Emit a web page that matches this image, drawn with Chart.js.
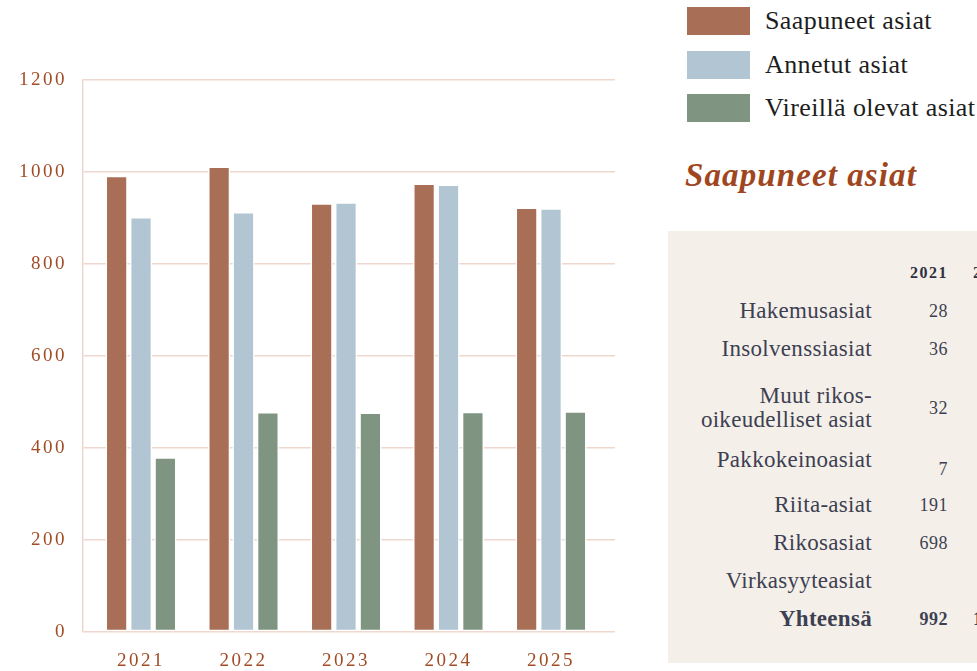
<!DOCTYPE html>
<html lang="fi">
<head>
<meta charset="utf-8">
<title>Saapuneet asiat</title>
<script src="https://cdn.jsdelivr.net/npm/chart.js@4/dist/chart.umd.min.js"></script>
<style>
  html, body {
    margin: 0;
    width: 977px;
    height: 671px;
    overflow: hidden;
    background: #fff;
    font-family: "Liberation Serif", serif;
  }
  #chartBox {
    position: absolute;
    left: 0;
    top: 0;
    width: 640px;
    height: 671px;
  }
  #legend {
    position: absolute;
    left: 687px;
    top: 7px;
  }
  .legend-row {
    display: flex;
    align-items: center;
    height: 28px;
    margin-bottom: 15.5px;
    white-space: nowrap;
  }
  .legend-box {
    width: 63px;
    height: 28px;
    margin-right: 15px;
  }
  .legend-text {
    font-size: 26px;
    letter-spacing: 0.4px;
    color: #1d1d1d;
  }
  #title {
    position: absolute;
    left: 685px;
    top: 157px;
    font-size: 33px;
    line-height: 36px;
    font-style: italic;
    font-weight: bold;
    letter-spacing: 1.1px;
    color: #a0461e;
    white-space: nowrap;
  }
  #panel {
    position: absolute;
    left: 668px;
    top: 231px;
    width: 400px;
    height: 432px;
    background: #f4f0e9;
  }
  #table {
    position: absolute;
    left: 0;
    top: 23px;
    display: grid;
    grid-template-columns: 204px 76px 63px;
    color: #3d3f52;
  }
  #table div {
    box-sizing: border-box;
    height: 38px;
    display: flex;
    align-items: center;
    justify-content: flex-end;
    white-space: pre-line;
    text-align: right;
  }
  #table .lbl { font-size: 23px; letter-spacing: 0.3px; line-height: 24px; }
  #table .num { font-size: 18px; letter-spacing: 0.5px; }
  #table .head { font-size: 16px; font-weight: bold; letter-spacing: 1.5px; color: #2f3142; }
  #table .tall { height: 80px; }
  #table .bold { font-weight: bold; }
</style>
</head>
<body>
<div id="chartBox"><canvas id="chart"></canvas></div>
<div id="legend"></div>
<div id="title">Saapuneet asiat</div>
<div id="panel"><div id="table"></div></div>

<script>
// Chart data
const years = [2021, 2022, 2023, 2024, 2025];
const saapuneet = [992, 1012, 932, 975, 923];
const annetut = [902, 913, 934, 973, 921];
const vireilla = [380, 478, 477, 479, 480];

const seriesNames = ['Saapuneet asiat', 'Annetut asiat', 'Vireillä olevat asiat'];
const seriesColors = ['#a96f56', '#b2c5d3', '#7f9581'];

// Side table (Saapuneet asiat per case type)
const tableYears = ['2021', '2022'];
const caseTypes = ['Hakemusasiat', 'Insolvenssiasiat', 'Muut rikos-\noikeudelliset asiat',
  'Pakkokeinoasiat', 'Riita-asiat', 'Rikosasiat', 'Virkasyyteasiat'];
const cases2021 = [28, 36, 32, 7, 191, 698, null];
const totalLabel = 'Yhteensä';

const gridColor = '#eed8ce';
const tickColor = '#a24c25';

// Legend
const legend = document.getElementById('legend');
seriesNames.forEach((name, i) => {
  const row = document.createElement('div');
  row.className = 'legend-row';
  row.innerHTML = '<div class="legend-box" style="background:' + seriesColors[i] + '"></div>' +
    '<span class="legend-text">' + name + '</span>';
  legend.appendChild(row);
});

// Table
const table = document.getElementById('table');
function addCell(text, cls) {
  const cell = document.createElement('div');
  cell.className = cls;
  cell.textContent = text;
  table.appendChild(cell);
  return cell;
}
addCell('', 'lbl');
tableYears.forEach(y => addCell(y, 'head'));
caseTypes.forEach((name, i) => {
  const tall = name.indexOf('\n') >= 0 ? ' tall' : '';
  const lbl = addCell(name, 'lbl' + tall);
  const num = addCell(cases2021[i] === null ? '' : cases2021[i], 'num' + tall);
  addCell('', 'num' + tall);
  // this row sits a bit off in the original
  if (name === 'Pakkokeinoasiat') {
    lbl.style.paddingBottom = '14px';
    num.style.paddingTop = '4px';
  }
});
const total = cases2021.reduce((a, b) => a + (b || 0), 0);
addCell(totalLabel, 'lbl bold');
addCell(total, 'num bold');
addCell(saapuneet[1], 'num bold');

// Wider letter spacing for the axis numbers
const spacing = {
  id: 'spacing',
  beforeLayout(chart) { chart.ctx.letterSpacing = '2.5px'; },
  beforeDraw(chart) { chart.ctx.letterSpacing = '2.5px'; }
};

const tickFont = { family: 'Liberation Serif', size: 19 };

const ctx = document.getElementById('chart').getContext('2d');
new Chart(ctx, {
  type: 'bar',
  data: {
    datasets: [saapuneet, annetut, vireilla].map((values, i) => ({
      label: seriesNames[i],
      data: values.map((v, j) => ({ x: years[j], y: v })),
      backgroundColor: seriesColors[i],
      borderColor: '#ffffff',
      borderWidth: 1.5,
      borderSkipped: false,
      barPercentage: 0.91,
      categoryPercentage: 0.714
    }))
  },
  options: {
    responsive: true,
    maintainAspectRatio: false,
    animation: false,
    layout: { padding: { top: 80, right: 25, left: 0, bottom: 0 } },
    plugins: {
      legend: { display: false },
      tooltip: { enabled: false }
    },
    scales: {
      x: {
        type: 'linear',
        offset: false,
        min: 2020.434,
        max: 2025.624,
        grid: { display: false },
        border: { display: false },
        ticks: {
          stepSize: 1,
          includeBounds: false,
          padding: 10,
          color: tickColor,
          font: tickFont,
          callback: value => Number.isInteger(value) ? String(value) : ''
        },
        afterFit: scale => { scale.height = 39; }
      },
      y: {
        min: 0,
        max: 1200,
        grid: { color: gridColor, lineWidth: 1.5, drawTicks: false },
        border: { display: true, color: gridColor, width: 1.5 },
        ticks: {
          stepSize: 200,
          padding: 16,
          color: tickColor,
          font: tickFont,
          callback: value => String(value)
        },
        afterFit: scale => { scale.width = 83; }
      }
    }
  },
  plugins: [spacing]
});
</script>
</body>
</html>
